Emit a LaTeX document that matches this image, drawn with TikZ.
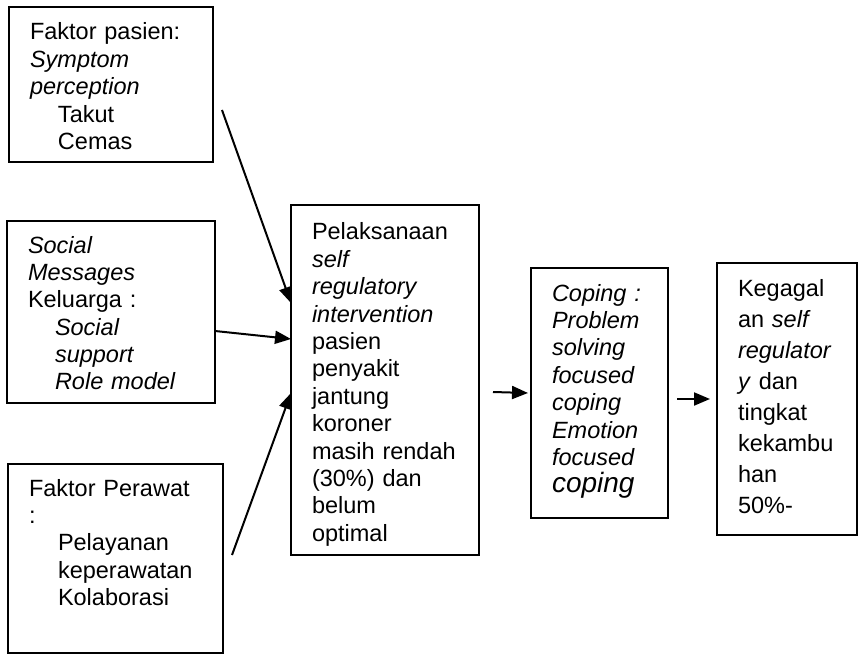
\documentclass[tikz,border=0pt]{standalone}
\usepackage{fontspec}
\setmainfont{Liberation Sans}
\usetikzlibrary{arrows.meta}

\begin{document}
\begin{tikzpicture}[x=1pt,y=-1pt,>={Triangle[length=16pt,width=13pt]},
  kotak/.style={draw,line width=2pt,outer sep=0pt,anchor=north west,inner xsep=21pt,inner ysep=0pt,
    align=left,font=\fontsize{23.5}{27.4}\selectfont},
  panah/.style={->,line width=2pt}]
  \useasboundingbox (0,0) rectangle (862,655);
  % kotak faktor
  \node[kotak,text width=162pt,text height=33pt,text depth=122pt] (pasien) at (9,7)
    {Faktor pasien:\\ \textit{Symptom}\\ \textit{perception}\\ \hspace*{28pt}Takut\\ \hspace*{28pt}Cemas};
  \node[kotak,text width=166pt,text height=32pt,text depth=150pt] (sosial) at (7,221)
    {\textit{Social}\\ \textit{Messages}\\ Keluarga :\\ \hspace*{27pt}\textit{Social}\\
     \hspace*{27pt}\textit{support}\\ \hspace*{27pt}\textit{Role model}};
  \node[kotak,text width=173pt,text height=32pt,text depth=157pt] (perawat) at (8,464)
    {Faktor Perawat\\ :\\ \hspace*{29pt}Pelayanan\\ \hspace*{29pt}keperawatan\\ \hspace*{29pt}Kolaborasi};
  % kotak tengah dan hasil
  \node[kotak,text width=146pt,text height=35pt,text depth=315pt] (pelaksanaan) at (291,205)
    {Pelaksanaan\\ \textit{self}\\ \textit{regulatory}\\ \textit{intervention}\\ pasien\\ penyakit\\
     jantung\\ koroner\\ masih rendah\\ (30\%) dan\\ belum\\ optimal};
  \node[kotak,text width=95pt,text height=33pt,text depth=217pt] (coping) at (531,268)
    {\textit{Coping :}\\ \textit{Problem}\\ \textit{solving}\\ \textit{focused}\\ \textit{coping}\\
     \textit{Emotion}\\ \textit{focused}\\ {\fontsize{28}{27.4}\selectfont\itshape coping}};
  \node[kotak,font=\fontsize{23.5}{31}\selectfont,text width=98pt,text height=33pt,text depth=239pt]
    (kegagalan) at (717,263)
    {Kegagal\\ an \textit{self}\\ \textit{regulator}\\ \textit{y} dan\\ tingkat\\ kekambu\\ han\\ 50\%-};
  % panah
  \draw[panah] ([shift={(9,103)}]pasien.north east) -- ([shift={(0,98)}]pelaksanaan.north west);
  \draw[panah] ([shift={(0,19)}]sosial.east) -- ([shift={(0,134)}]pelaksanaan.north west);
  \draw[panah] ([shift={(9,91)}]perawat.north east) -- ([shift={(0,188)}]pelaksanaan.north west);
  \draw[panah] ([shift={(14,12)}]pelaksanaan.east) -- ([shift={(-3,0)}]coping.west);
  \draw[panah] ([shift={(9,6)}]coping.east) -- ([shift={(-7,0)}]kegagalan.west);
\end{tikzpicture}
\end{document}
